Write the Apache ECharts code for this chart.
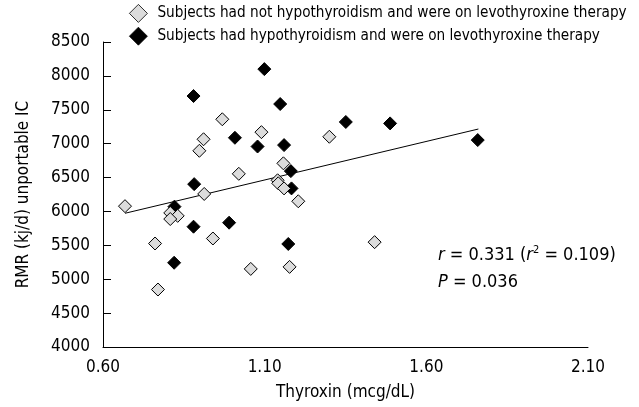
<!DOCTYPE html>
<html>
<head>
<meta charset="utf-8">
<script src="https://cdn.jsdelivr.net/npm/echarts@6/dist/echarts.min.js"></script>
<style>
  html, body { margin: 0; padding: 0; background: #fff; }
  #chart { width: 639px; height: 407px; }
</style>
</head>
<body>
<div id="chart"></div>
<script>
// values
var noHypoX = [0.969, 1.090, 0.911, 0.898, 1.158, 1.020, 1.140, 1.142, 1.160, 0.913, 1.204, 0.668, 0.808, 0.831, 0.808, 0.940, 0.761, 1.177, 1.057, 0.770, 1.300, 1.440];
var noHypoY = [7360, 7170, 7065, 6895, 6710, 6555, 6460, 6415, 6340, 6258, 6150, 6078, 5978, 5935, 5888, 5601, 5527, 5182, 5152, 4848, 7102, 5547];
var hypoX = [1.099, 0.880, 1.148, 1.008, 1.078, 1.160, 1.181, 0.882, 1.183, 0.821, 0.880, 0.990, 1.173, 0.820, 1.351, 1.488, 1.759];
var hypoY = [8100, 7703, 7585, 7087, 6958, 6979, 6595, 6403, 6340, 6071, 5775, 5834, 5520, 5243, 7320, 7299, 7053];
var fitX = [0.668, 1.761];
var fitY = [5973, 7216];
var legendNames = ['Subjects had not hypothyroidism and were on levothyroxine therapy', 'Subjects had hypothyroidism and were on levothyroxine therapy'];

function pairs(xs, ys) {
  return xs.map(function (x, i) { return [x, ys[i]]; });
}

var font = 'DejaVu Sans Condensed';
var myChart = echarts.init(document.getElementById('chart'));

myChart.setOption({
  animation: false,
  textStyle: { fontFamily: font, color: '#000' },
  grid: { left: 103, right: 51, top: 42, bottom: 60 },
  legend: {
    orient: 'vertical',
    left: 129,
    top: 4,
    padding: 0,
    itemGap: 4,
    itemWidth: 18,
    itemHeight: 18,
    itemStyle: { borderWidth: 0.8 },
    textStyle: { fontFamily: font, fontSize: 15.2, color: '#000', padding: [0, 0, 0, 5] },
    data: [
      { name: legendNames[0], icon: 'diamond' },
      { name: legendNames[1], icon: 'diamond' }
    ]
  },
  xAxis: {
    type: 'value',
    min: 0.6,
    max: 2.1,
    interval: 0.5,
    name: 'Thyroxin (mcg/dL)',
    nameLocation: 'middle',
    nameGap: 37,
    nameTextStyle: { fontFamily: font, fontSize: 17, color: '#000' },
    axisLine: { show: true, lineStyle: { color: '#000', width: 1 } },
    axisTick: { show: false },
    splitLine: { show: false },
    axisLabel: {
      margin: 12,
      fontFamily: font,
      fontSize: 17,
      color: '#000',
      formatter: function (v) { return v.toFixed(2); }
    }
  },
  yAxis: {
    type: 'value',
    min: 4000,
    max: 8500,
    interval: 500,
    name: 'RMR (kj/d) unportable IC',
    nameLocation: 'middle',
    nameGap: 71,
    nameTextStyle: { fontFamily: font, fontSize: 17, color: '#000' },
    axisLine: { show: true, lineStyle: { color: '#000', width: 1 } },
    axisTick: { show: true, inside: true, length: 8, lineStyle: { color: '#000' } },
    splitLine: { show: false },
    axisLabel: {
      margin: 13,
      fontFamily: font,
      fontSize: 17,
      color: '#000',
      formatter: function (v) { return String(v); }
    }
  },
  series: [
    {
      type: 'line',
      data: pairs(fitX, fitY),
      showSymbol: false,
      silent: true,
      lineStyle: { color: '#000', width: 1 },
      z: 1
    },
    {
      name: legendNames[1],
      type: 'scatter',
      symbol: 'diamond',
      symbolSize: 13,
      data: pairs(hypoX, hypoY),
      itemStyle: { color: '#000', borderColor: '#000', borderWidth: 1, opacity: 1 },
      z: 2
    },
    {
      name: legendNames[0],
      type: 'scatter',
      symbol: 'diamond',
      symbolSize: 13,
      data: pairs(noHypoX, noHypoY),
      itemStyle: { color: '#dcdcdc', borderColor: '#000', borderWidth: 1, opacity: 1 },
      z: 3
    }
  ],
  graphic: [
    {
      type: 'text',
      left: 438,
      top: 245,
      style: {
        text: '{i|r} = 0.331 ({i|r}{s|2} = 0.109)',
        font: '18px "' + font + '"',
        fill: '#000',
        rich: {
          i: { fontStyle: 'italic', fontSize: 18, fontFamily: font },
          s: { fontSize: 11, fontFamily: font, verticalAlign: 'top', padding: [0, 0, 9, 0] }
        }
      }
    },
    {
      type: 'text',
      left: 438,
      top: 273,
      style: {
        text: '{i|P} = 0.036',
        font: '18px "' + font + '"',
        fill: '#000',
        rich: {
          i: { fontStyle: 'italic', fontSize: 18, fontFamily: font }
        }
      }
    }
  ]
});
</script>
</body>
</html>
